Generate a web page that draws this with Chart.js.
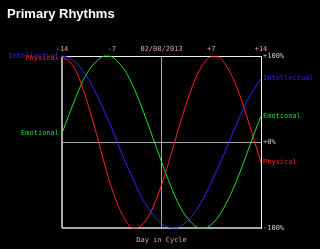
<!DOCTYPE html>
<html>
<head>
<meta charset="utf-8">
<script src="https://cdn.jsdelivr.net/npm/chart.js@4"></script>
<style>
  body { margin: 0; background: #000; }
  canvas { display: block; }
</style>
</head>
<body>
<canvas id="rhythmChart" width="320" height="249"></canvas>
<script>
// Day offsets from the reference date
const days = [-14, -13, -12, -11, -10, -9, -8, -7, -6, -5, -4, -3, -2, -1, 0,
  1, 2, 3, 4, 5, 6, 7, 8, 9, 10, 11, 12, 13, 14];

// Rhythm values (-1 .. +1)
const physical = [0.98, 0.94, 0.82, 0.61, 0.34, 0.05, -0.26, -0.54, -0.76, -0.92, -1.00, -0.98, -0.89, -0.72, -0.50,
  -0.24, 0.04, 0.32, 0.57, 0.78, 0.92, 0.99, 0.99, 0.90, 0.75, 0.55, 0.30, 0.03, -0.24];
const emotional = [0.10, 0.32, 0.53, 0.72, 0.86, 0.95, 1.00, 0.99, 0.92, 0.81, 0.65, 0.45, 0.23, 0.00, -0.23,
  -0.45, -0.65, -0.81, -0.92, -0.99, -1.00, -0.96, -0.87, -0.73, -0.56, -0.36, -0.14, 0.09, 0.30];
const intellectual = [1.00, 0.98, 0.92, 0.82, 0.69, 0.53, 0.35, 0.16, -0.05, -0.25, -0.43, -0.61, -0.75, -0.87, -0.95,
  -0.99, -1.00, -0.96, -0.89, -0.78, -0.64, -0.47, -0.29, -0.10, 0.10, 0.29, 0.47, 0.61, 0.74];

// Tick labels
const dayTicks = [-14, -7, 0, 7, 14];
const dayTickLabels = ['-14', '-7', '02/08/2013', '+7', '+14'];
const pctTicks = [-1, 0, 1];
const pctTickLabels = ['-100%', '+0%', '+100%'];

const monoFont = { family: '"DejaVu Sans Mono", monospace', size: 7 };
const pink = '#e0a0a0';

function toPoints(values) {
  return days.map((d, i) => ({ x: d, y: values[i] }));
}

// Series names at both ends of each curve, plus the page title
const seriesLabels = {
  id: 'seriesLabels',
  afterDraw(chart) {
    const ctx = chart.ctx;
    const area = chart.chartArea;
    ctx.save();
    ctx.fillStyle = '#fff';
    ctx.font = 'bold 13px "Liberation Sans", Arial, sans-serif';
    ctx.textAlign = 'left';
    ctx.textBaseline = 'alphabetic';
    ctx.fillText('Primary Rhythms', 7, 18);

    ctx.font = '7px "DejaVu Sans Mono", monospace';
    ctx.textBaseline = 'middle';
    for (let i = chart.data.datasets.length - 1; i >= 0; i--) {
      const ds = chart.data.datasets[i];
      const pts = chart.getDatasetMeta(i).data;
      ctx.fillStyle = ds.borderColor;
      ctx.textAlign = 'right';
      ctx.fillText(ds.label, area.left - 3, pts[0].y);
      ctx.textAlign = 'left';
      ctx.fillText(ds.label, area.right + 2, pts[pts.length - 1].y);
    }
    ctx.restore();
  }
};

const ctx = document.getElementById('rhythmChart').getContext('2d');
const rhythmChart = new Chart(ctx, {
  type: 'line',
  data: {
    datasets: [
      { label: 'Intellectual', data: toPoints(intellectual), borderColor: '#2828ff' },
      { label: 'Emotional', data: toPoints(emotional), borderColor: '#20e020' },
      { label: 'Physical', data: toPoints(physical), borderColor: '#ff2020' },
    ],
  },
  options: {
    responsive: false,
    animation: false,
    layout: { padding: { top: 42 } },
    elements: {
      line: { borderWidth: 1, cubicInterpolationMode: 'monotone' },
      point: { radius: 0 },
    },
    datasets: { line: { clip: 3 } },
    plugins: {
      legend: { display: false },
      tooltip: { enabled: false },
      title: { display: false },
    },
    scales: {
      x: {
        type: 'linear',
        position: 'top',
        min: -14,
        max: 14,
        afterBuildTicks: s => { s.ticks = dayTicks.map(v => ({ value: v })); },
        afterFit: s => { s.height = 14; },
        ticks: {
          color: pink,
          font: monoFont,
          padding: 3,
          maxRotation: 0,
          autoSkip: false,
          callback: v => dayTickLabels[dayTicks.indexOf(v)],
        },
        grid: {
          drawTicks: false,
          color: c => c.tick.value === 14 ? '#f0f0f0' : (c.tick.value === -14 || c.tick.value === 0) ? '#a8a8a8' : 'rgba(0,0,0,0)',
          lineWidth: c => c.tick.value === -14 ? 2 : 1,
        },
        border: { color: '#f0f0f0', width: 1 },
      },
      xb: {
        type: 'linear',
        position: 'bottom',
        min: -14,
        max: 14,
        afterFit: s => { s.height = 21; },
        ticks: { display: false },
        grid: { display: false },
        border: { display: false },
        title: {
          display: true,
          text: 'Day in Cycle',
          color: pink,
          font: monoFont,
          padding: { top: 0, bottom: 5 },
        },
      },
      y: {
        type: 'linear',
        position: 'right',
        min: -1,
        max: 1,
        afterBuildTicks: s => { s.ticks = pctTicks.map(v => ({ value: v })); },
        afterFit: s => { s.width = 59; },
        ticks: {
          color: '#c8c8c8',
          font: monoFont,
          padding: 2,
          callback: v => pctTickLabels[pctTicks.indexOf(v)],
        },
        grid: {
          drawTicks: false,
          color: c => c.tick.value === 1 ? '#f0f0f0' : '#a8a8a8',
          lineWidth: c => c.tick.value === -1 ? 2 : 1,
        },
        border: { color: '#f0f0f0', width: 1 },
      },
      yl: {
        type: 'linear',
        position: 'left',
        min: -1,
        max: 1,
        afterFit: s => { s.width = 62; },
        ticks: { display: false },
        grid: { display: false },
        border: { display: false },
      },
    },
  },
  plugins: [seriesLabels],
});
</script>
</body>
</html>
